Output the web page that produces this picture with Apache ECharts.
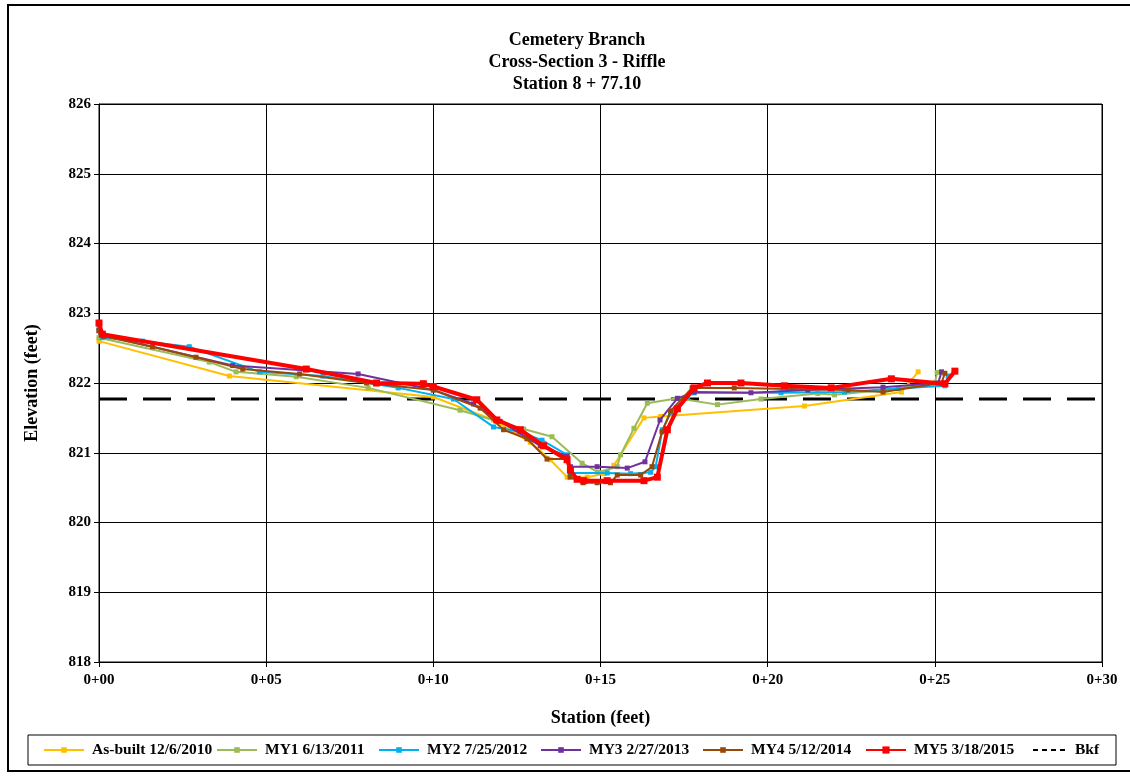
<!DOCTYPE html>
<html>
<head>
<meta charset="utf-8">
<script src="https://cdn.jsdelivr.net/npm/echarts@6/dist/echarts.min.js"></script>
<style>
html,body{margin:0;padding:0;background:#fff;}
#c{width:1130px;height:776px;}
</style>
</head>
<body>
<div id="c"></div>
<script>
// Tick labels
const xTickLabels = ['0+00','0+05','0+10','0+15','0+20','0+25','0+30'];
const yTicks = [818,819,820,821,822,823,824,825,826];

// Series data: [station (ft), elevation (ft)]
const asBuilt = [[0,822.6],[3.9,822.1],[10.0,821.8],[11.8,821.47],[12.9,821.15],[13.5,820.9],[14.0,820.65],[14.6,820.65],[15.1,820.7],[15.4,820.82],[16.3,821.5],[16.8,821.52],[21.1,821.67],[24.0,821.87],[24.5,822.16]];
const my1 = [[0,822.65],[3.3,822.3],[4.1,822.16],[5.9,822.09],[8.05,821.93],[10.8,821.61],[12.7,821.34],[13.55,821.23],[14.45,820.85],[14.93,820.72],[15.5,820.8],[15.6,820.97],[16.0,821.35],[16.4,821.71],[17.3,821.78],[18.5,821.69],[19.8,821.77],[21.5,821.85],[22.0,821.83],[23.5,821.9],[25.0,822.0],[25.07,822.15]];
const my2 = [[0,822.8],[0.1,822.65],[1.3,822.6],[2.7,822.52],[4.8,822.16],[6.7,822.1],[8.95,821.93],[10.6,821.77],[11.8,821.37],[12.6,821.3],[13.25,821.18],[14.0,820.97],[14.1,820.71],[15.2,820.71],[15.9,820.7],[16.5,820.72],[16.65,820.8],[16.85,821.33],[17.1,821.57],[17.6,821.8],[17.8,821.86],[20.4,821.86],[22.3,821.87],[23.9,821.92],[25.3,821.96],[25.4,822.1]];
const my3 = [[0,822.75],[0.15,822.68],[4.0,822.25],[7.75,822.13],[10.0,821.9],[11.2,821.7],[12.0,821.45],[13.2,821.1],[14.0,820.95],[14.1,820.8],[14.9,820.8],[15.8,820.78],[16.33,820.87],[16.78,821.47],[17.3,821.78],[17.8,821.87],[19.5,821.86],[21.2,821.9],[23.45,821.94],[25.1,822.0],[25.2,822.16]];
const my4 = [[0,822.75],[0.15,822.67],[1.6,822.52],[2.9,822.37],[4.3,822.2],[6.0,822.13],[8.0,822.0],[10.0,821.9],[11.4,821.64],[12.1,821.33],[12.8,821.2],[13.4,820.91],[14.0,820.91],[14.09,820.65],[14.48,820.57],[14.9,820.57],[15.3,820.57],[15.5,820.68],[16.2,820.68],[16.54,820.8],[16.84,821.3],[17.1,821.6],[17.74,821.93],[19.0,821.93],[22.4,821.9],[23.45,821.87],[25.2,822.0],[25.3,822.14]];
const my5 = [[0,822.86],[0.1,822.7],[6.2,822.2],[8.3,822.0],[9.7,821.99],[10.0,821.95],[11.3,821.76],[11.9,821.47],[12.6,821.33],[13.3,821.1],[14.0,820.9],[14.1,820.75],[14.3,820.62],[14.5,820.6],[15.2,820.6],[16.3,820.6],[16.7,820.65],[17.0,821.33],[17.3,821.63],[17.8,821.93],[18.2,822.0],[19.2,822.0],[20.5,821.96],[21.9,821.93],[23.7,822.06],[25.3,821.99],[25.6,822.17]];
const bkfElev = 821.77;
const bkf = [[0,bkfElev],[30,bkfElev]];

const seriesNames = ['As-built 12/6/2010','MY1 6/13/2011','MY2 7/25/2012','MY3 2/27/2013','MY4 5/12/2014','MY5 3/18/2015','Bkf'];
const seriesColors = ['#FFC000','#9BBB59','#00B0F0','#7030A0','#984807','#FF0000','#000000'];
const legendLeft = [43, 216, 378, 540, 702, 865, 1032];

const FONT = '"Liberation Serif","Times New Roman",serif';

function lineSeries(i, data, width, sym){
  return {
    name: seriesNames[i], type:'line', data:data,
    symbol:'rect', symbolSize:sym, showSymbol:true,
    lineStyle:{color:seriesColors[i], width:width},
    itemStyle:{color:seriesColors[i]},
    animation:false, z: 3 + i
  };
}

const legends = seriesNames.map(function(n,i){
  const lg = {
    left: legendLeft[i], top: 742, padding:0,
    itemWidth: i===6 ? 34 : 40, itemHeight: i===5 ? 9 : 7, itemGap:0,
    textStyle:{fontFamily:FONT, fontWeight:'bold', fontSize:15.5, color:'#000', padding:[0,0,0,3]},
    data:[n], selectedMode:false
  };
  if (i===6) {
    lg.data = [{name:n, itemStyle:{opacity:0}, lineStyle:{type:[5,4], width:2, color:'#000'}}];
  }
  return lg;
});

const chart = echarts.init(document.getElementById('c'), null, {renderer:'canvas'});
chart.setOption({
  backgroundColor:'#fff',
  animation:false,
  title:{
    text:'Cemetery Branch\nCross-Section 3 - Riffle\nStation 8 + 77.10',
    left:572, top:24, textAlign:'center',
    textStyle:{fontFamily:FONT, fontWeight:'bold', fontSize:18, lineHeight:22, color:'#000'}
  },
  graphic:[{
    type:'rect', shape:{x:8, y:5, width:1140, height:766},
    style:{fill:'none', stroke:'#000', lineWidth:2}, silent:true, z:-1
  },{
    type:'rect', shape:{x:28, y:735, width:1088, height:30},
    style:{fill:'none', stroke:'#000', lineWidth:1}, silent:true, z:-1
  }],
  grid:{left:99, right:28, top:104, bottom:114, show:true, borderColor:'#000', borderWidth:1},
  xAxis:{
    type:'value', min:0, max:30, interval:5,
    name:'Station (feet)', nameLocation:'middle', nameGap:47,
    nameTextStyle:{fontFamily:FONT, fontWeight:'bold', fontSize:18, color:'#000'},
    axisLine:{lineStyle:{color:'#000', width:1}},
    axisTick:{show:true, inside:false, length:5, lineStyle:{color:'#000'}},
    splitLine:{show:true, lineStyle:{color:'#000', width:1}},
    axisLabel:{fontFamily:FONT, fontWeight:'bold', fontSize:15, color:'#000', margin:11,
      formatter:function(v){ return xTickLabels[Math.round(v/5)]; }}
  },
  yAxis:{
    type:'value', min:818, max:826, interval:1,
    name:'Elevation (feet)', nameLocation:'middle', nameGap:58,
    nameTextStyle:{fontFamily:FONT, fontWeight:'bold', fontSize:18, color:'#000'},
    axisLine:{show:true, lineStyle:{color:'#000', width:1}},
    axisTick:{show:true, length:5, lineStyle:{color:'#000'}},
    splitLine:{show:true, lineStyle:{color:'#000', width:1}},
    axisLabel:{fontFamily:FONT, fontWeight:'bold', fontSize:15, color:'#000', margin:8,
      formatter:function(v){ return String(v); }}
  },
  legend:legends,
  series:[
    lineSeries(0, asBuilt, 2, 5),
    lineSeries(1, my1, 2, 5),
    lineSeries(2, my2, 2, 5),
    lineSeries(3, my3, 2, 5),
    lineSeries(4, my4, 2, 5),
    lineSeries(5, my5, 4, 7),
    {
      name:seriesNames[6], type:'line', data:bkf, symbol:'none',
      lineStyle:{color:'#000', width:3, type:[28,16]},
      itemStyle:{color:'#000'}, z:2
    }
  ]
});
</script>
</body>
</html>
